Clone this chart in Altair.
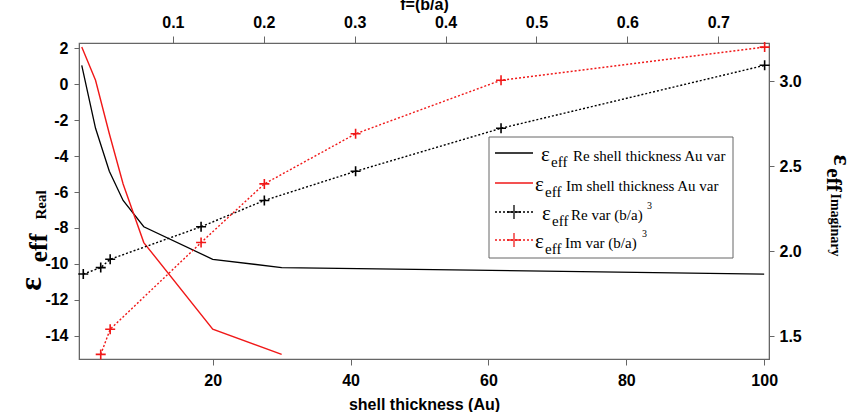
import altair as alt
import pandas as pd

# Shell thickness (Au) and the matching volume fraction f=(b/a)^3
thickness = [1, 3, 5, 7, 10, 20, 30, 100]
f_ratio = [0.751, 0.461, 0.301, 0.2006, 0.131, 0.031, 0.0206, 0.0014]
# Effective permittivity, real and imaginary parts
eps_re = [1.04, -2.46, -4.85, -6.47, -7.93, -9.74, -10.2, -10.56]
eps_im = [3.2, 3.005, 2.69, 2.395, 2.05, 1.54, 1.392]

re_df = pd.DataFrame({"t": thickness, "f": f_ratio, "re": eps_re})
im_df = pd.DataFrame({"t": thickness[:7], "f": f_ratio[:7], "im": eps_im})

RED = "#f01818"
SANS = "Liberation Sans"
SERIF = "Liberation Serif"
PLUS = "M-1,0L1,0M0,-1L0,1"

x_bot = alt.Scale(domain=[0.6, 100.7], nice=False, zero=False)
x_top = alt.Scale(domain=[-0.0033, 0.7558], nice=False, zero=False)
y_left = alt.Scale(domain=[-15.28, 2.28], nice=False, zero=False)
y_right = alt.Scale(domain=[1.365, 3.224], nice=False, zero=False)

axis_style = dict(
    labelFont=SANS, labelFontSize=16, labelFontWeight="bold", labelColor="black",
    tickColor="#666", domainColor="#666", grid=False,
    titleFont=SANS, titleFontSize=16, titleFontWeight="bold", titleColor="black",
)

re_thick = alt.Chart(re_df).mark_line(color="black", strokeWidth=1.3).encode(
    x=alt.X("t:Q", scale=x_bot,
            axis=alt.Axis(orient="bottom", values=[20, 40, 60, 80, 100],
                          title="shell thickness (Au)", titleY=50,
                          titleBaseline="alphabetic", tickSize=6, labelPadding=7,
                          **axis_style)),
    y=alt.Y("re:Q", scale=y_left,
            axis=alt.Axis(orient="left", values=list(range(-14, 3, 2)), title=None,
                          labelExpr="toString(datum.value)", tickSize=5,
                          labelPadding=6, **axis_style)),
)

im_thick = alt.Chart(im_df).mark_line(color=RED, strokeWidth=1.4).encode(
    x=alt.X("t:Q", scale=x_bot, axis=None),
    y=alt.Y("im:Q", scale=y_right,
            axis=alt.Axis(orient="right", values=[1.5, 2.0, 2.5, 3.0], format=".1f",
                          title=None, tickSize=5, labelPadding=5, **axis_style)),
)

re_frac = alt.Chart(re_df).mark_line(
    color="black", strokeWidth=1.4, strokeDash=[2, 2],
    point=alt.OverlayMarkDef(shape=PLUS, filled=False, stroke="black",
                             strokeWidth=1.6, size=100, strokeDash=[1, 0]),
).encode(
    x=alt.X("f:Q", scale=x_top,
            axis=alt.Axis(orient="top", values=[0.1, 0.2, 0.3, 0.4, 0.5, 0.6, 0.7],
                          format=".1f", title="f=(b/a)", titleY=-34,
                          titleBaseline="alphabetic", tickSize=7, labelPadding=6,
                          **axis_style)),
    y=alt.Y("re:Q", scale=y_left, axis=None),
)

im_frac = alt.Chart(im_df).mark_line(
    color=RED, strokeWidth=1.4, strokeDash=[2, 2],
    point=alt.OverlayMarkDef(shape=PLUS, filled=False, stroke=RED,
                             strokeWidth=1.6, size=100, strokeDash=[1, 0]),
).encode(
    x=alt.X("f:Q", scale=x_top, axis=None),
    y=alt.Y("im:Q", scale=y_right, axis=None),
)

one = alt.Data(values=[{}])


def label(text, x, y, size, font=SERIF, weight="normal", angle=0, align="left",
          baseline="alphabetic"):
    return alt.Chart(one).mark_text(
        text=text, font=font, fontSize=size, fontWeight=weight, angle=angle,
        align=align, baseline=baseline, color="black",
    ).encode(x=alt.value(x), y=alt.value(y))


# Left axis title: eps_eff Real, reading bottom to top
left_title = [
    label("ε", -38, 241, 32, weight="bold", angle=270, align="center"),
    label("eff", -32, 205, 26, weight="bold", angle=270, align="center"),
    label("Real", -33, 162, 15, weight="bold", angle=270, align="center"),
]
# Right axis title: eps_eff Imaginary, reading top to bottom
right_title = [
    label("ε", 755, 117, 26, weight="bold", angle=90, align="center"),
    label("eff", 748, 137, 21, weight="bold", angle=90, align="center"),
    label("Imaginary", 752, 182, 14, weight="bold", angle=90, align="center"),
]

# Legend box
legend_box = alt.Chart(one).mark_rect(
    fill="white", stroke="#666", strokeWidth=1
).encode(x=alt.value(410), x2=alt.value(654), y=alt.value(94), y2=alt.value(215))

legend_rows = [
    # (line y, colour, dashed, eps x, text x, text, superscript x)
    (110, "black", False, 462, 494, "Re shell thickness Au var", None),
    (140, RED, False, 456, 487, "Im shell thickness Au var", None),
    (169, "black", True, 463, 492, "Re var (b/a)", 568),
    (197, RED, True, 456, 486, "Im var (b/a)", 563),
]

legend_layers = []
for ly, col, dashed, ex, tx, txt, sx in legend_rows:
    legend_layers.append(
        alt.Chart(one).mark_rule(
            color=col, strokeWidth=1.4, strokeDash=[2, 2] if dashed else [1, 0]
        ).encode(x=alt.value(416), x2=alt.value(454), y=alt.value(ly))
    )
    if dashed:
        legend_layers.append(
            alt.Chart(one).mark_point(
                shape=PLUS, filled=False, stroke=col, strokeWidth=1.8, size=196
            ).encode(x=alt.value(435), y=alt.value(ly))
        )
    legend_layers.append(label("ε", ex, ly + 8, 21))
    legend_layers.append(label("eff", ex + 10, ly + 14, 15))
    legend_layers.append(label(txt, tx, ly + 8, 15))
    if sx is not None:
        legend_layers.append(label("3", sx, ly - 3, 10))

chart = alt.layer(
    re_thick, im_thick, re_frac, im_frac,
    *left_title, *right_title, legend_box, *legend_layers,
).resolve_scale(
    x="independent", y="independent"
).properties(
    width=690, height=316,
    autosize=alt.AutoSizeParams(type="none"),
    padding={"left": 79, "top": 43, "right": 82, "bottom": 53},
).configure_view(stroke="#666", strokeWidth=1.2)

chart.save("out.html", embed_options={"renderer": "svg", "actions": False})
